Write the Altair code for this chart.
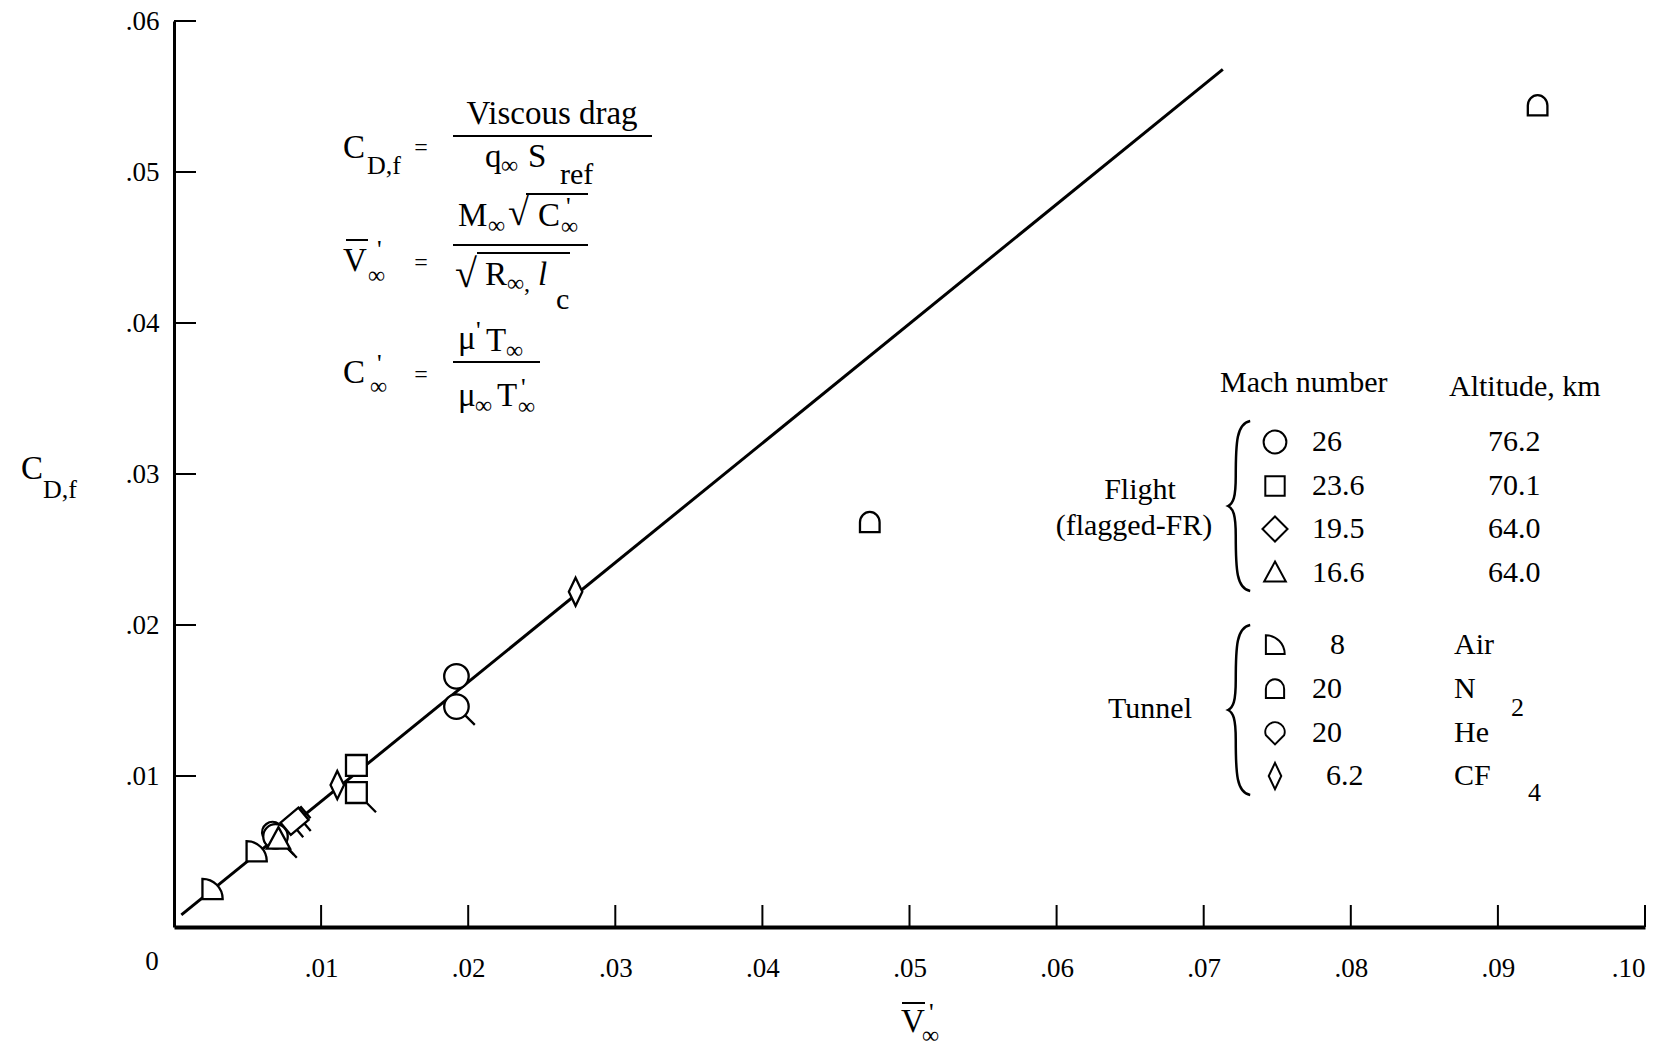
import altair as alt
import pandas as pd

# ---------------- data ----------------
x_ticks = [0.01, 0.02, 0.03, 0.04, 0.05, 0.06, 0.07, 0.08, 0.09, 0.10]
y_ticks = [0.01, 0.02, 0.03, 0.04, 0.05, 0.06]

fit_x = [0.0005, 0.0713]
fit_y = [0.0008, 0.0568]

pt_x = [0.0026, 0.0056, 0.0067, 0.0069, 0.0071, 0.0082, 0.0111, 0.0124, 0.0124, 0.0192, 0.0192, 0.0273, 0.0473, 0.0927]
pt_y = [0.0025, 0.0050, 0.0062, 0.0060, 0.0058, 0.0070, 0.0094, 0.0107, 0.0089, 0.0166, 0.0146, 0.0222, 0.0268, 0.0544]
pt_kind = ["air", "air", "he", "circle", "triangle", "rect", "cf4", "square", "square", "circle", "circle", "cf4", "n2", "n2"]
pt_flag = [False, False, False, True, True, True, False, False, True, False, True, False, False, False]
pt_angle = [0, 0, 0, 0, 0, 320, 0, 0, 0, 0, 0, 0, 0, 0]

leg_kind = ["circle", "square", "diamond", "triangle", "air", "n2", "he", "cf4"]
leg_mach = ["26", "23.6", "19.5", "16.6", "8", "20", "20", "6.2"]
leg_alt = ["76.2", "70.1", "64.0", "64.0", "Air", "N", "He", "CF"]

# ---------------- styles ----------------
FONT = "Liberation Serif"
L, T, W, H = 174, 21, 1471, 906
PAGE_W, PAGE_H = 1670, 1049
SYM = 600

SHAPES = {
    "circle": "M1,0 A1,1 0 1,1 -1,0 A1,1 0 1,1 1,0 Z",
    "square": "M-0.85,-0.85 H0.85 V0.85 H-0.85 Z",
    "rect": "M-0.95,-0.65 H0.95 V0.65 H-0.95 Z M1.15,-0.65 L1.15,0.65",
    "diamond": "M0,-1.1 L1.1,0 L0,1.1 L-1.1,0 Z",
    "triangle": "M0,-1 L0.95,0.75 L-0.95,0.75 Z",
    "air": "M-0.8,-0.85 A1.65,1.65 0 0,1 0.85,0.8 L-0.8,0.8 Z",
    "n2": "M-0.8,0.8 L-0.8,0 A0.8,0.85 0 0,1 0.8,0 L0.8,0.8 Z",
    "he": "M0,1 L-0.8,0.2 A0.85,0.85 0 1,1 0.8,0.2 Z",
    "cf4": "M0,-1.15 L0.55,0 L0,1.15 L-0.55,0 Z",
}
FLAGS = {
    "circle": " M0.7,0.7 L1.5,1.5",
    "square": " M0.85,0.85 L1.6,1.6",
    "rect": " M-0.3,0.65 L-0.3,1.45 M0.5,0.65 L0.5,1.45",
    "triangle": " M0.8,0.75 L1.5,1.5",
}

pts = pd.DataFrame({
    "x": pt_x, "y": pt_y,
    "shape": [SHAPES[k] + (FLAGS.get(k, "") if f else "") for k, f in zip(pt_kind, pt_flag)],
    "angle": pt_angle,
})

xs = alt.Scale(domain=[0, 0.10], nice=False, zero=False)
ys = alt.Scale(domain=[0, 0.06], nice=False, zero=False)

fit = alt.Chart(pd.DataFrame({"x": fit_x, "y": fit_y})).mark_line(
    color="black", strokeWidth=3
).encode(
    x=alt.X("x:Q", scale=xs, title=None,
            axis=alt.Axis(values=x_ticks, labelExpr="substring(format(datum.value, '.2f'), 1)",
                          ticks=False, tickSize=0, grid=False, labelPadding=28,
                          domainWidth=4, domainColor="black", labelFont=FONT,
                          labelFontSize=27, labelColor="black")),
    y=alt.Y("y:Q", scale=ys, title=None,
            axis=alt.Axis(values=y_ticks, labelExpr="substring(format(datum.value, '.2f'), 1)",
                          ticks=False, tickSize=0, grid=False, labelPadding=15,
                          domainWidth=3, domainColor="black", labelFont=FONT,
                          labelFontSize=27, labelColor="black")),
)

xtick = alt.Chart(pd.DataFrame({"v": x_ticks})).mark_rule(color="black", strokeWidth=2).encode(
    x=alt.X("v:Q", scale=xs), y=alt.value(H), y2=alt.value(H - 22))
ytick = alt.Chart(pd.DataFrame({"v": y_ticks})).mark_rule(color="black", strokeWidth=2).encode(
    y=alt.Y("v:Q", scale=ys), x=alt.value(0), x2=alt.value(22))

points = alt.Chart(pts).mark_point(
    filled=True, fill="white", stroke="black", strokeWidth=2.3, opacity=1, size=SYM
).encode(
    x=alt.X("x:Q", scale=xs),
    y=alt.Y("y:Q", scale=ys),
    shape=alt.Shape("shape:N", scale=None),
    angle=alt.Angle("angle:Q", scale=None),
)

# ---------------- annotations (page pixel positions) ----------------
B, S, INF, PR, EQ, LG = 33, 26, 24, 26, 24, 30
texts = [
    # axis corner and titles
    ("0", 152, 962, 27, "center", "normal"),
    ("C", 21, 469, B, "left", "normal"),
    ("D,f", 43, 490, S, "left", "normal"),
    ("V", 901, 1022, B, "left", "normal"),
    ("'", 929, 1013, PR, "left", "normal"),
    ("∞", 922, 1036, INF, "left", "normal"),
    # formula 1
    ("C", 343, 148, B, "left", "normal"),
    ("D,f", 367, 166, S, "left", "normal"),
    ("=", 421, 148, EQ, "center", "normal"),
    ("Viscous  drag", 552, 114, B, "center", "normal"),
    ("q", 485, 157, B, "left", "normal"),
    ("∞", 501, 166, INF, "left", "normal"),
    ("S", 528, 157, B, "left", "normal"),
    ("ref", 560, 175, 30, "left", "normal"),
    # formula 2
    ("V", 343, 261, B, "left", "normal"),
    ("'", 377, 250, PR, "left", "normal"),
    ("∞", 368, 276, INF, "left", "normal"),
    ("=", 421, 263, EQ, "center", "normal"),
    ("M", 458, 216, B, "left", "normal"),
    ("∞", 488, 226, INF, "left", "normal"),
    ("√", 508, 214, 38, "left", "normal"),
    ("C", 538, 216, B, "left", "normal"),
    ("'", 566, 207, PR, "left", "normal"),
    ("∞", 561, 227, INF, "left", "normal"),
    ("√", 455, 275, 40, "left", "normal"),
    ("R", 485, 275, B, "left", "normal"),
    ("∞,", 507, 284, INF, "left", "normal"),
    ("l", 538, 275, B, "left", "italic"),
    ("c", 556, 300, 30, "left", "normal"),
    # formula 3
    ("C", 343, 373, B, "left", "normal"),
    ("'", 377, 364, PR, "left", "normal"),
    ("∞", 370, 387, INF, "left", "normal"),
    ("=", 421, 375, EQ, "center", "normal"),
    ("μ", 458, 339, B, "left", "normal"),
    ("'", 476, 331, PR, "left", "normal"),
    ("T", 486, 341, B, "left", "normal"),
    ("∞", 506, 351, INF, "left", "normal"),
    ("μ", 458, 396, B, "left", "normal"),
    ("∞", 475, 406, INF, "left", "normal"),
    ("T", 497, 396, B, "left", "normal"),
    ("'", 521, 388, PR, "left", "normal"),
    ("∞", 518, 407, INF, "left", "normal"),
    # legend headers
    ("Mach  number", 1220, 383, LG, "left", "normal"),
    ("Altitude,  km", 1449, 387, LG, "left", "normal"),
    ("Flight", 1140, 490, LG, "center", "normal"),
    ("(flagged-FR)", 1134, 526, LG, "center", "normal"),
    ("Tunnel", 1150, 709, LG, "center", "normal"),
    ("2", 1511, 708, 26, "left", "normal"),
    ("4", 1528, 793, 26, "left", "normal"),
]

row_y = [442, 486, 529, 573, 645, 689, 733, 776]
mach_x = [1312, 1312, 1312, 1312, 1330, 1312, 1312, 1326]
alt_x = [1488, 1488, 1488, 1488, 1454, 1454, 1454, 1454]
for i in range(8):
    texts.append((leg_mach[i], mach_x[i], row_y[i], LG, "left", "normal"))
    texts.append((leg_alt[i], alt_x[i], row_y[i], LG, "left", "normal"))

tdf = pd.DataFrame(texts, columns=["text", "px", "py", "size", "align", "style"])
tdf["px"] = tdf["px"] - L
tdf["py"] = tdf["py"] - T


def text_layer(align, style):
    sub = tdf[(tdf["align"] == align) & (tdf["style"] == style)]
    return alt.Chart(sub).mark_text(
        font=FONT, color="black", align=align, baseline="middle", fontStyle=style
    ).encode(
        x=alt.X("px:Q", scale=None),
        y=alt.Y("py:Q", scale=None),
        text="text:N",
        size=alt.Size("size:Q", scale=None),
    )


rules = [
    (453, 652, 136),   # fraction 1
    (453, 588, 245),   # fraction 2
    (453, 540, 362),   # fraction 3
    (346, 368, 240),   # V bar in formula
    (526, 588, 194),   # sqrt bar numerator
    (477, 570, 253),   # sqrt bar denominator
    (902, 925, 1003),  # V bar axis title
]
rdf = pd.DataFrame(rules, columns=["x1", "x2", "y"])
rdf["x1"] -= L
rdf["x2"] -= L
rdf["y"] -= T
rule_layer = alt.Chart(rdf).mark_rule(color="black", strokeWidth=2).encode(
    x=alt.X("x1:Q", scale=None), x2="x2:Q", y=alt.Y("y:Q", scale=None))

legdf = pd.DataFrame({
    "px": [1275 - L] * 8,
    "py": [v - T for v in row_y],
    "shape": [SHAPES[k] for k in leg_kind],
})
leg_sym = alt.Chart(legdf).mark_point(
    filled=True, fill="white", stroke="black", strokeWidth=2, opacity=1, size=520
).encode(
    x=alt.X("px:Q", scale=None), y=alt.Y("py:Q", scale=None),
    shape=alt.Shape("shape:N", scale=None),
)

BRACE = ("M0.12,-1 C-0.04,-0.97 -0.05,-0.75 -0.05,-0.35 C-0.05,-0.1 -0.08,-0.03 -0.14,0 "
         "C-0.08,0.03 -0.05,0.1 -0.05,0.35 C-0.05,0.75 -0.04,0.97 0.12,1")
bdf = pd.DataFrame({"px": [1240 - L, 1240 - L], "py": [506 - T, 710 - T]})
braces = alt.Chart(bdf).mark_point(
    filled=False, stroke="black", strokeWidth=2.5, opacity=1, size=28900, shape=BRACE
).encode(x=alt.X("px:Q", scale=None), y=alt.Y("py:Q", scale=None))

chart = alt.layer(
    xtick, ytick, fit, points, rule_layer, leg_sym, braces,
    text_layer("left", "normal"), text_layer("center", "normal"), text_layer("left", "italic"),
).properties(
    width=W, height=H,
    padding={"left": L, "top": T, "right": PAGE_W - L - W, "bottom": PAGE_H - T - H},
    autosize="none",
    background="white",
).configure_view(stroke=None)

chart.save("out.html", embed_options={"renderer": "svg", "actions": False})
